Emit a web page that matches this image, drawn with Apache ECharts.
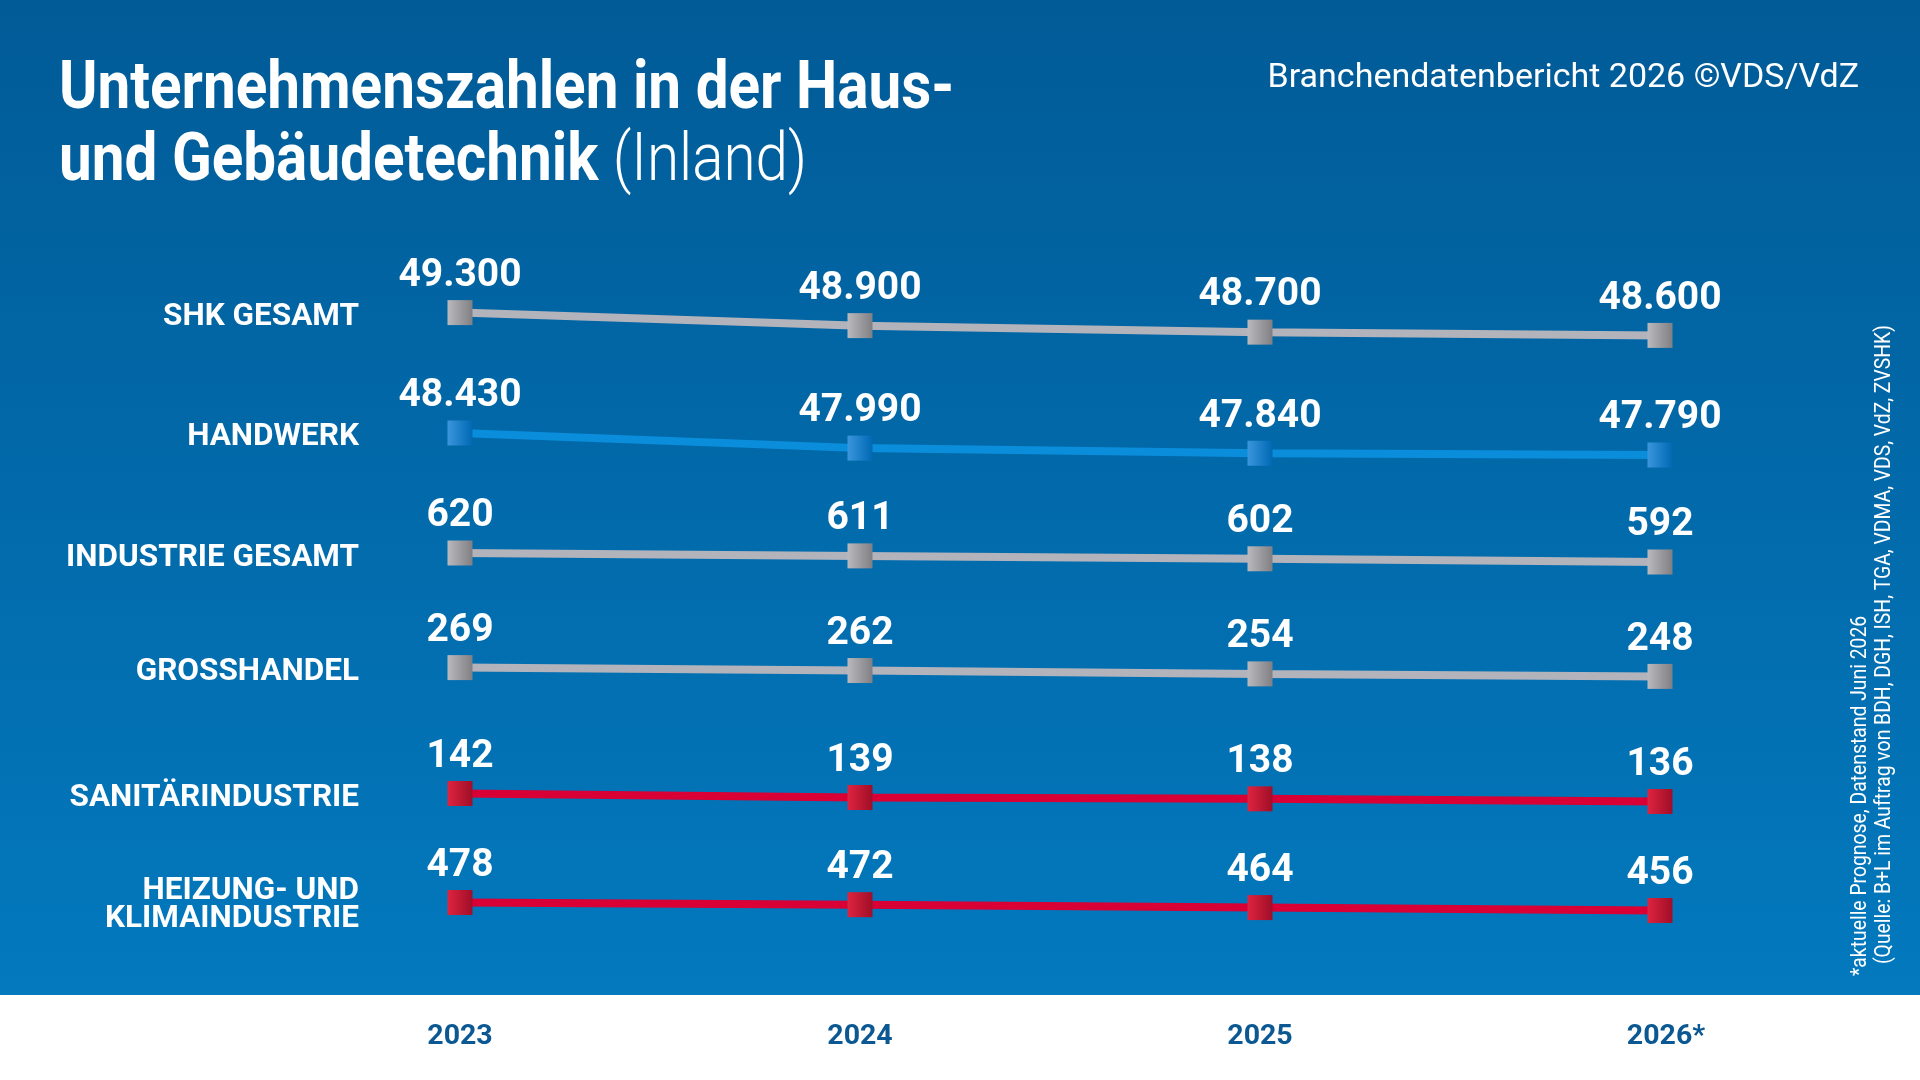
<!DOCTYPE html>
<html>
<head>
<meta charset="utf-8">
<title>Unternehmenszahlen in der Haus- und Gebäudetechnik</title>
<script src="https://cdn.jsdelivr.net/npm/echarts@6/dist/echarts.min.js"></script>
<style>
  html, body { margin: 0; padding: 0; background: #fff; }
  #chart { width: 1920px; height: 1080px; }
</style>
</head>
<body>
<div id="chart"></div>
<script>
// Daten ****************************************
var years = ['2023', '2024', '2025', '2026*'];
var rowNames = ['SHK GESAMT', 'HANDWERK', 'INDUSTRIE GESAMT', 'GROSSHANDEL', 'SANITÄRINDUSTRIE', 'HEIZUNG- UND\nKLIMAINDUSTRIE'];
var shkGesamt = [49300, 48900, 48700, 48600];
var handwerk = [48430, 47990, 47840, 47790];
var industrieGesamt = [620, 611, 602, 592];
var grosshandel = [269, 262, 254, 248];
var sanitaer = [142, 139, 138, 136];
var heizungKlima = [478, 472, 464, 456];

// Layout je Zeile: Mitte der Zeile (px) und Werte pro Pixel
var rows = [
    { data: shkGesamt,       mid: 324, perPx: 30.7, color: 'gray' },
    { data: handwerk,        mid: 444, perPx: 29.1, color: 'blue' },
    { data: industrieGesamt, mid: 557.5, perPx: 3.11, color: 'gray' },
    { data: grosshandel,     mid: 672, perPx: 2.39, color: 'gray' },
    { data: sanitaer,        mid: 797.5, perPx: 0.75, color: 'red' },
    { data: heizungKlima,    mid: 906.5, perPx: 2.75, color: 'red' }
];
var labelY = [317, 437, 558, 672, 798, 905];

var palette = {
    gray: { line: '#b3b3bc', a: '#b9b9be', b: '#7f7f84' },
    blue: { line: '#0a8edb', a: '#3a96dc', b: '#0068b4' },
    red:  { line: '#d80034', a: '#de2440', b: '#a00e28' }
};

function fmt(v) {
    return String(v).replace(/\B(?=(\d{3})+(?!\d))/g, '.');
}

var grids = [], xAxes = [], yAxes = [], series = [], graphics = [];
var H = 100;

for (var i = 0; i < rows.length; i++) {
    var r = rows[i];
    var lo = Math.min.apply(null, r.data), hi = Math.max.apply(null, r.data);
    var center = (lo + hi) / 2;
    grids.push({ left: 460, right: 260, top: r.mid - H / 2, height: H });
    xAxes.push({
        type: 'category',
        gridIndex: i,
        data: years,
        boundaryGap: false,
        axisLine: { show: false },
        axisTick: { show: false },
        splitLine: { show: false },
        axisLabel: i === rows.length - 1 ? {
            show: true,
            margin: 66,
            color: '#0b5893',
            fontFamily: 'Roboto',
            fontWeight: 'bold',
            fontSize: 28.5,
            formatter: function (v) {
                // Stern haengt rechts an, Jahreszahl bleibt mittig
                return v.indexOf('*') > -1 ? '{p|}' + v : v;
            },
            rich: { p: { width: 12 } }
        } : { show: false }
    });
    yAxes.push({
        type: 'value',
        gridIndex: i,
        min: center - r.perPx * H / 2,
        max: center + r.perPx * H / 2,
        show: false
    });
    var c = palette[r.color];
    series.push({
        type: 'line',
        name: rowNames[i],
        xAxisIndex: i,
        yAxisIndex: i,
        data: r.data,
        clip: false,
        symbol: 'rect',
        symbolSize: 25,
        showAllSymbol: true,
        lineStyle: { color: c.line, width: 8 },
        itemStyle: {
            color: {
                type: 'linear', x: 0, y: 0, x2: 1, y2: 0,
                colorStops: [{ offset: 0, color: c.a }, { offset: 1, color: c.b }]
            }
        },
        label: {
            show: true,
            position: 'inside',
            offset: [0, -36.5],
            formatter: function (p) { return fmt(p.value); },
            color: '#fff',
            fontFamily: 'Roboto',
            fontWeight: 'bold',
            fontSize: 39
        },
        emphasis: { disabled: true },
        z: 3
    });
    graphics.push({
        type: 'text',
        x: 359,
        y: labelY[i],
        style: {
            text: rowNames[i],
            fill: '#fff',
            font: 'bold 31.5px Roboto',
            align: 'right',
            verticalAlign: 'middle',
            lineHeight: 28
        }
    });
}

// Hintergrund
graphics.unshift({
    type: 'rect',
    z: -10,
    shape: { x: 0, y: 0, width: 1920, height: 995 },
    style: {
        fill: {
            type: 'linear', x: 0, y: 0, x2: 0, y2: 1,
            colorStops: [{ offset: 0, color: '#015b97' }, { offset: 1, color: '#0379be' }]
        }
    }
});

// Titel
graphics.push({
    type: 'text',
    x: 59, y: 91,
    scaleX: 0.872,
    style: {
        text: 'Unternehmenszahlen in der Haus-',
        fill: '#fff',
        font: 'bold 67px Roboto',
        verticalAlign: 'middle'
    }
});
graphics.push({
    type: 'text',
    x: 59, y: 163,
    scaleX: 0.872,
    style: {
        text: '{b|und Gebäudetechnik}{l| (Inland)}',
        fill: '#fff',
        verticalAlign: 'middle',
        rich: {
            b: { fontFamily: 'Roboto', fontWeight: 'bold', fontSize: 67, color: '#fff' },
            l: { fontFamily: 'Roboto', fontWeight: 300, fontSize: 67, color: '#fff' }
        }
    }
});
graphics.push({
    type: 'text',
    x: 1859, y: 78,
    style: {
        text: 'Branchendatenbericht 2026 ©VDS/VdZ',
        fill: '#fff',
        font: '34px Roboto',
        align: 'right',
        verticalAlign: 'middle'
    }
});
// Fussnote (gedreht)
graphics.push({
    type: 'text',
    x: 1861, y: 976,
    rotation: Math.PI / 2,
    scaleX: 0.9,
    style: {
        text: '*aktuelle Prognose, Datenstand Juni 2026',
        fill: '#fff',
        font: '21.5px Roboto',
        align: 'left',
        verticalAlign: 'middle'
    }
});
graphics.push({
    type: 'text',
    x: 1885, y: 964,
    rotation: Math.PI / 2,
    scaleX: 0.9,
    style: {
        text: '(Quelle: B+L im Auftrag von BDH, DGH, ISH, TGA, VDMA, VDS, VdZ, ZVSHK)',
        fill: '#fff',
        font: '21.5px Roboto',
        align: 'left',
        verticalAlign: 'middle'
    }
});

var myChart = echarts.init(document.getElementById('chart'));
var option = {
    backgroundColor: '#ffffff',
    animation: false,
    grid: grids,
    xAxis: xAxes,
    yAxis: yAxes,
    series: series,
    graphic: { elements: graphics }
};
myChart.setOption(option);
</script>
</body>
</html>
